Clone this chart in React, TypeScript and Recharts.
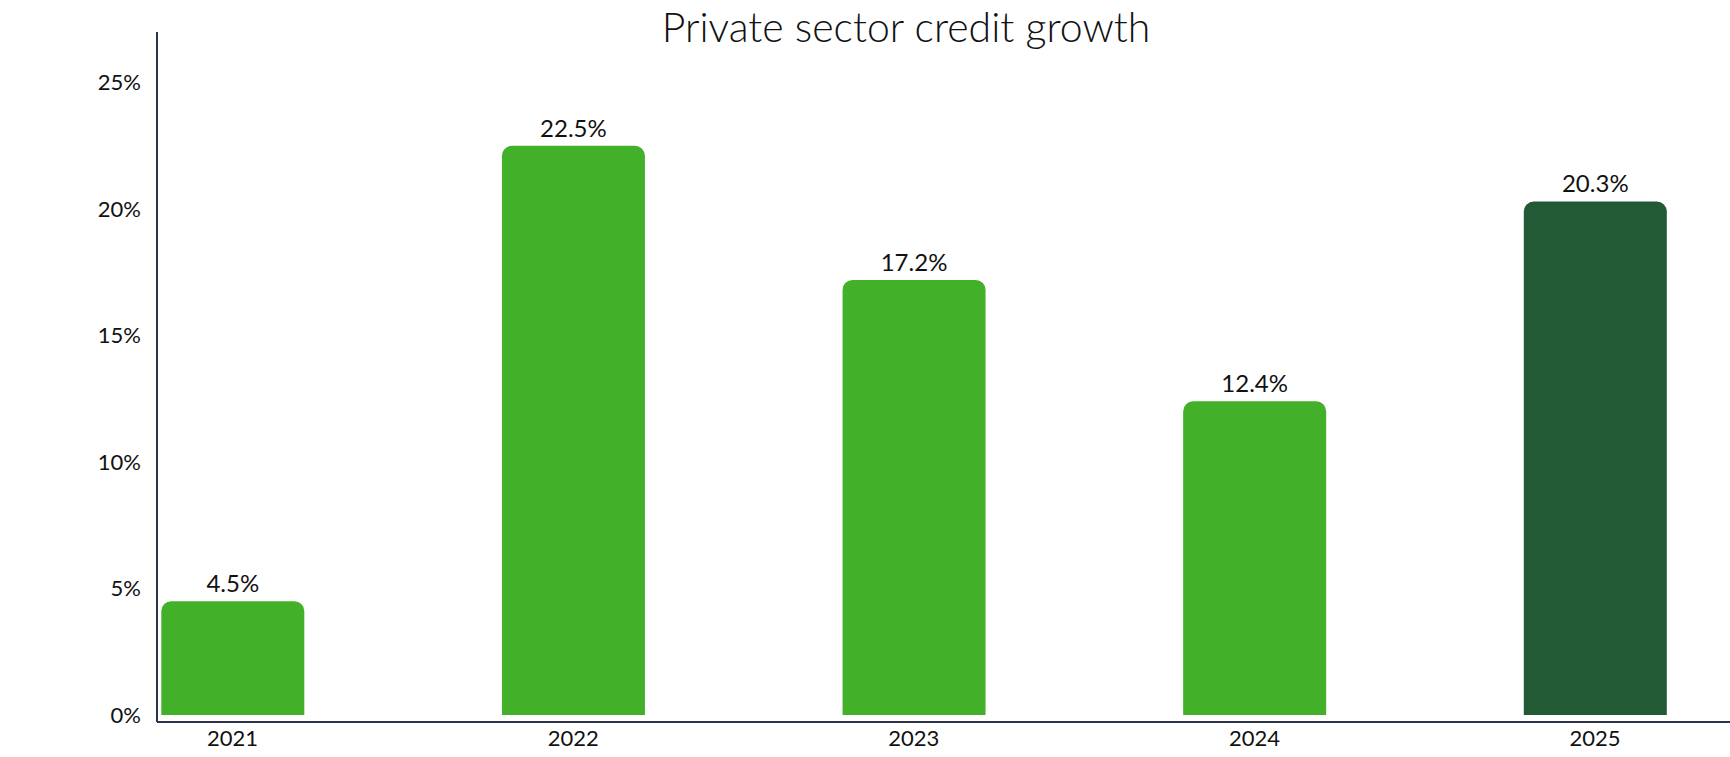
import React from 'react';
import { BarChart, Bar, XAxis, YAxis, Cell, LabelList } from 'recharts';

const years = [2021, 2022, 2023, 2024, 2025];
const growth = [4.5, 22.5, 17.2, 12.4, 20.3];
const barColors = ['#43B02A', '#43B02A', '#43B02A', '#43B02A', '#225A35'];
const yTicks = [0, 5, 10, 15, 20, 25];

const data = years.map((year, i) => ({ year, value: growth[i] }));

const FONT = 'Lato, "Noto Sans", sans-serif';
const AXIS = '#2A3349';

export default function App() {
  return (
    <div style={{ position: 'absolute', left: 0, top: 0, width: 1730, height: 757, background: '#fff', fontFamily: FONT }}>
      <div
        style={{
          position: 'absolute',
          left: 906,
          top: 5.5,
          transform: 'translateX(-50%)',
          fontSize: 41,
          lineHeight: '41px',
          fontWeight: 300,
          whiteSpace: 'nowrap',
          color: '#111',
          fontFamily: FONT,
        }}
      >
        Private sector credit growth
      </div>
      <BarChart width={1730} height={757} data={data} margin={{ top: 32, right: 0, bottom: 0, left: 0 }}>
        <XAxis
          dataKey="year"
          type="number"
          scale="linear"
          domain={[2020.778, 2025.396]}
          ticks={years}
          allowDataOverflow
          tickFormatter={(v: number) => String(v)}
          height={35}
          axisLine={{ stroke: AXIS, strokeWidth: 2 }}
          tickLine={false}
          tickSize={6}
          tickMargin={2}
          tick={{ fontSize: 22, fill: '#111', fontFamily: FONT }}
        />
        <YAxis
          type="number"
          domain={[-0.277, 27]}
          ticks={yTicks}
          allowDataOverflow
          tickFormatter={(v: number) => `${v}%`}
          width={157}
          axisLine={{ stroke: AXIS, strokeWidth: 2 }}
          tickLine={false}
          tickSize={6}
          tickMargin={10}
          tick={{ fontSize: 22, fill: '#111', fontFamily: FONT }}
        />
        <Bar dataKey="value" barSize={143} radius={[10, 10, 0, 0]} isAnimationActive={false}>
          {data.map((d, i) => (
            <Cell key={d.year} fill={barColors[i]} />
          ))}
          <LabelList
            dataKey="value"
            position="top"
            offset={9}
            formatter={(v: number) => `${v}%`}
            style={{ fontSize: 24, fill: '#111', fontFamily: FONT }}
          />
        </Bar>
      </BarChart>
    </div>
  );
}
